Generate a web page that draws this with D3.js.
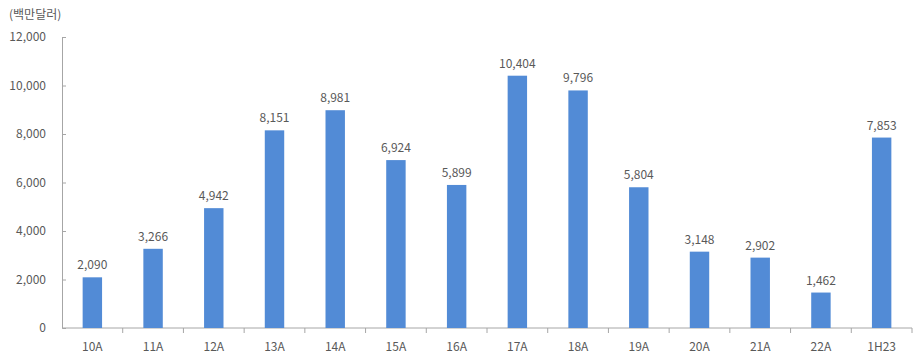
<!DOCTYPE html>
<html>
<head>
<meta charset="utf-8">
<script src="https://cdn.jsdelivr.net/npm/d3@7"></script>
<style>
  body { margin: 0; background: #fff; }
  text { font-family: "Noto Sans CJK KR", "Noto Sans", sans-serif; fill: #595959; }
</style>
</head>
<body>
<div id="chart"></div>
<script>
// categories and values (백만달러)
var categories = ["10A", "11A", "12A", "13A", "14A", "15A", "16A", "17A", "18A", "19A", "20A", "21A", "22A", "1H23"];
var values = [2090, 3266, 4942, 8151, 8981, 6924, 5899, 10404, 9796, 5804, 3148, 2902, 1462, 7853];
var yTicks = [0, 2000, 4000, 6000, 8000, 10000, 12000];

var W = 918, H = 354;
var margin = {top: 37, right: 6, bottom: 26, left: 62},
    width = W - margin.left - margin.right,
    height = H - margin.top - margin.bottom;

var svg = d3.select("#chart")
  .append("svg")
    .attr("width", W)
    .attr("height", H);

var g = svg.append("g")
    .attr("transform", "translate(" + margin.left + "," + margin.top + ")");

var x = d3.scaleBand()
  .domain(categories)
  .range([0, width])
  .paddingInner(0.68)
  .paddingOuter(0.34);

var xb = d3.scaleBand().domain(categories).range([0, width]);

var y = d3.scaleLinear()
  .domain([0, 12000])
  .range([height, 0]);

// unit label
svg.append("text")
  .attr("x", 9)
  .attr("y", 19)
  .style("font-size", "12px")
  .text("(백만달러)");

// y axis
var yAxis = g.append("g")
  .call(d3.axisLeft(y).tickValues(yTicks).tickFormat(d3.format(",d")).tickSize(-4).tickPadding(16));
yAxis.select(".domain").attr("stroke", "#a6a6a6");
yAxis.selectAll(".tick line").attr("stroke", "#a6a6a6");
yAxis.selectAll(".tick text").style("font-size", "12px").attr("fill", "#595959");
yAxis.selectAll(".tick").filter(function(d) { return d === 0; }).select("line").remove();

// x axis with ticks at category boundaries
var xAxisG = g.append("g")
  .attr("transform", "translate(0," + height + ")");
xAxisG.append("line")
  .attr("x1", 0).attr("x2", width)
  .attr("stroke", "#a6a6a6");
xAxisG.selectAll(".bt")
  .data(categories)
  .enter().append("line")
    .attr("x1", function(d) { return xb(d) + xb.bandwidth(); })
    .attr("x2", function(d) { return xb(d) + xb.bandwidth(); })
    .attr("y1", 0).attr("y2", 5)
    .attr("stroke", "#a6a6a6");
xAxisG.selectAll(".lbl")
  .data(categories)
  .enter().append("text")
    .attr("x", function(d) { return xb(d) + xb.bandwidth() / 2; })
    .attr("y", 23)
    .attr("text-anchor", "middle")
    .style("font-size", "12px")
    .text(function(d) { return d; });

// bars
g.selectAll(".bar")
  .data(values)
  .enter().append("rect")
    .attr("x", function(d, i) { return x(categories[i]); })
    .attr("y", function(d) { return y(d); })
    .attr("width", x.bandwidth())
    .attr("height", function(d) { return height - y(d); })
    .attr("fill", "#528bd6");

// value labels
g.selectAll(".val")
  .data(values)
  .enter().append("text")
    .attr("x", function(d, i) { return x(categories[i]) + x.bandwidth() / 2; })
    .attr("y", function(d) { return y(d) - 8; })
    .attr("text-anchor", "middle")
    .style("font-size", "12px")
    .text(function(d) { return d3.format(",d")(d); });
</script>
</body>
</html>
